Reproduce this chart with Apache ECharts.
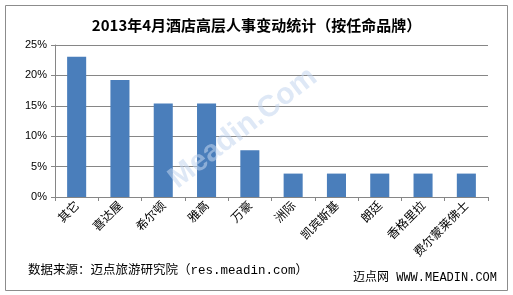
<!DOCTYPE html>
<html><head><meta charset="utf-8">
<script src="https://cdn.jsdelivr.net/npm/echarts@6/dist/echarts.min.js"></script>
<style>html,body{margin:0;padding:0;background:#fff}#c{width:513px;height:295px}</style>
</head><body><div id="c"></div>
<script>
const categories = ['其它','喜达屋','希尔顿','雅高','万豪','洲际','凯宾斯基','朗廷','香格里拉','费尔蒙莱佛士'];
const values = [23.08, 19.23, 15.38, 15.38, 7.69, 3.85, 3.85, 3.85, 3.85, 3.85];
const yTicks = [0, 5, 10, 15, 20, 25];
const titleText = '2013年4月酒店高层人事变动统计（按任命品牌）';
const sourceText = '数据来源：迈点旅游研究院（res.meadin.com）';
const brandText = '迈点网 WWW.MEADIN.COM';
const watermark = 'Meadin.Com';

const chart = echarts.init(document.getElementById('c'), null, {renderer:'canvas'});
const font = '"Noto Sans CJK SC", sans-serif';
const monoFont = '"Liberation Mono", "Noto Sans CJK SC", monospace';
chart.setOption({
  animation:false,
  backgroundColor:'#fff',
  title:{text:titleText,left:'center',top:13,textStyle:{fontFamily:font,fontSize:15,fontWeight:'bold',color:'#000'}},
  grid:{left:55,right:25,top:45,bottom:98,containLabel:false},
  xAxis:{type:'category',data:categories,
    axisLine:{lineStyle:{color:'#868686'}},
    axisTick:{show:true,alignWithLabel:false,length:4,lineStyle:{color:'#868686'}},
    axisLabel:{rotate:45,interval:0,fontFamily:font,fontSize:12,color:'#000',margin:6}},
  yAxis:{type:'value',min:yTicks[0],max:yTicks[yTicks.length-1],interval:5,
    axisLine:{show:true,lineStyle:{color:'#868686'}},
    axisTick:{show:true,length:4,inside:false,lineStyle:{color:'#868686'}},
    axisLabel:{formatter:'{value}%',fontFamily:'"Liberation Sans", sans-serif',fontSize:11,color:'#000',margin:8},
    splitLine:{lineStyle:{color:'#868686'}}},
  series:[{type:'bar',data:values,barWidth:'44%',itemStyle:{color:'#4A7EBB'}}],
  graphic:[
    {type:'rect',left:3,top:3,shape:{width:502,height:285},style:{fill:'none',stroke:'#8c8c8c',lineWidth:1},z:-1},
    {type:'text',x:243,y:128,rotation:0.656,z:10,style:{text:watermark,fontFamily:'"Liberation Sans", sans-serif',fontSize:30,fontWeight:'bold',fill:'rgba(195,214,238,0.55)',align:'center',verticalAlign:'middle'}},
    {type:'text',left:28,top:264,style:{text:sourceText,fontFamily:monoFont,fontSize:12.5,fill:'#000'}},
    {type:'text',left:353,top:272,style:{text:brandText,fontFamily:monoFont,fontSize:12,fill:'#000'}}
  ]
});
</script></body></html>
